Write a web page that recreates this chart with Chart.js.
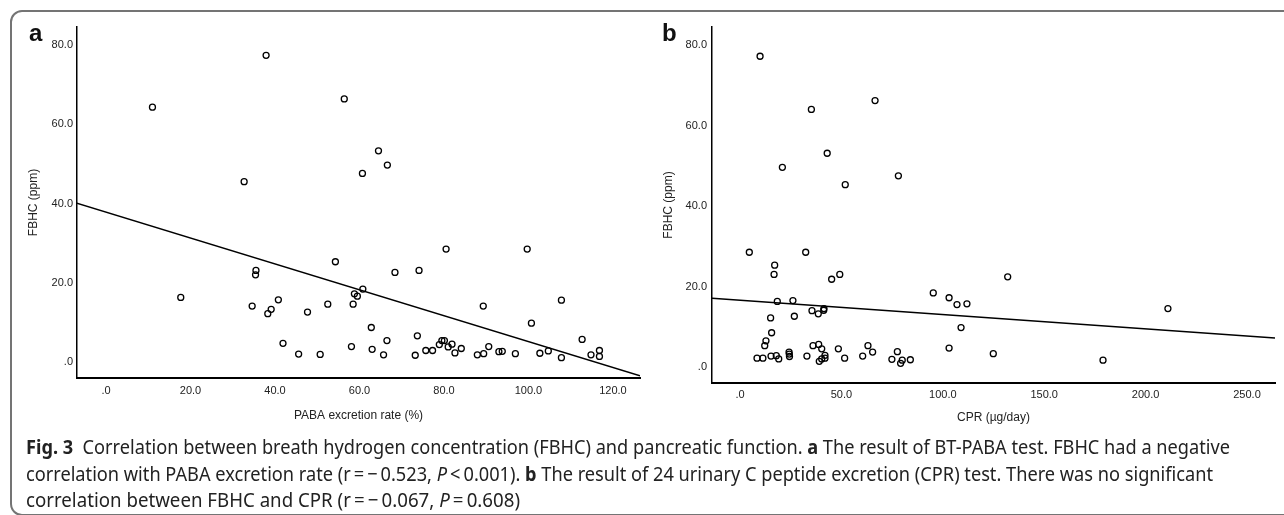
<!DOCTYPE html>
<html>
<head>
<meta charset="utf-8">
<script src="https://cdn.jsdelivr.net/npm/chart.js@4.4.1/dist/chart.umd.min.js"></script>
<style>
    body { margin: 0; width: 1284px; height: 515px; overflow: hidden; background: #fff; position: relative; font-family: 'Liberation Sans', Arial, sans-serif; }
    #frame { position: absolute; left: 10px; top: 10px; width: 1300px; height: 506px; border: 2px solid #747474; border-radius: 12px; box-sizing: border-box; }
    .panel { position: absolute; top: 15px; }
    #panelA { left: 15px; }
    #panelB { left: 650px; }
    .letter { position: absolute; font-weight: bold; font-size: 24px; line-height: 24px; color: #111; }
    .caption { position: absolute; left: 26px; font-family: 'Noto Sans', sans-serif; font-size: 20px; line-height: 26px; color: #222; white-space: nowrap; transform-origin: left top; }
</style>
</head>
<body>
<div id="frame"></div>
<canvas id="panelA" class="panel" width="640" height="420"></canvas>
<canvas id="panelB" class="panel" width="634" height="420"></canvas>
<div class="letter" style="left:29px; top:21px;">a</div>
<div class="letter" style="left:662px; top:21px;">b</div>
<div class="caption" style="top:434px;"><b>Fig. 3</b>&nbsp; Correlation between breath hydrogen concentration (FBHC) and pancreatic function. <b>a</b> The result of BT-PABA test. FBHC had a negative</div>
<div class="caption" style="top:461px;">correlation with PABA excretion rate (r&thinsp;=&thinsp;&minus;&thinsp;0.523, <i>P</i>&thinsp;&lt;&thinsp;0.001). <b>b</b> The result of 24 urinary C peptide excretion (CPR) test. There was no significant</div>
<div class="caption" style="top:487px;">correlation between FBHC and CPR (r&thinsp;=&thinsp;&minus;&thinsp;0.067, <i>P</i>&thinsp;=&thinsp;0.608)</div>

<script>
'use strict';

// panel a : PABA excretion rate (%) vs FBHC (ppm)
let pabaX = [
    11.0, 37.9, 32.7, 56.4, 64.5, 66.6, 60.7, 17.7, 35.5, 35.4,
    34.6, 39.1, 38.3, 40.8, 47.7, 41.9, 45.6, 50.7, 52.5, 54.3,
    58.5, 58.8, 59.5, 60.8, 58.1, 62.8, 63.0, 65.7, 66.5, 68.4,
    74.1, 80.5, 73.7, 73.2, 75.7, 77.3, 78.9, 79.5, 80.1, 81.0,
    81.9, 82.6, 84.1, 87.9, 89.4, 90.6, 89.3, 93.0, 93.8, 96.9,
    99.7, 100.7, 102.7, 104.7, 107.8, 107.8, 112.7, 114.8, 116.8, 116.8
];
let pabaY = [
    64.3, 77.4, 45.5, 66.4, 53.3, 49.7, 47.6, 16.3, 23.1, 22.0,
    14.1, 13.3, 12.2, 15.7, 12.6, 4.7, 2.0, 1.9, 14.6, 25.3,
    14.6, 17.2, 16.6, 18.4, 3.9, 8.7, 3.2, 1.8, 5.4, 22.6,
    23.1, 28.5, 6.6, 1.7, 2.9, 2.9, 4.4, 5.4, 5.4, 3.8,
    4.5, 2.3, 3.4, 1.8, 2.1, 3.9, 14.1, 2.6, 2.7, 2.1,
    28.5, 9.8, 2.2, 2.8, 15.6, 1.1, 5.7, 1.8, 2.9, 1.4
];
// fitted line, read at both ends of the axis
let pabaFitX = [-6.9, 126.4];
let pabaFitY = [40.1, -3.5];

// panel b : CPR (µg/day) vs FBHC (ppm)
let cprX = [
    9.9, 35.2, 66.6, 43.0, 20.9, 51.9, 78.1, 4.6, 32.4, 17.1,
    16.8, 45.2, 49.2, 18.4, 26.1, 15.1, 26.8, 35.5, 38.6, 41.3,
    41.4, 15.6, 12.8, 12.2, 8.4, 11.3, 15.3, 17.9, 19.1, 24.2,
    24.4, 24.3, 33.0, 36.0, 38.8, 40.3, 39.1, 40.3, 41.9, 41.9,
    48.5, 51.6, 60.5, 63.1, 65.4, 74.9, 77.6, 79.2, 80.0, 84.0,
    95.3, 103.1, 107.0, 111.9, 109.0, 103.1, 132.0, 124.9, 179.0, 211.0
];
let cprY = [
    77.2, 64.0, 66.2, 53.1, 49.6, 45.3, 47.5, 28.5, 28.5, 25.3,
    23.0, 21.8, 23.0, 16.3, 16.5, 12.2, 12.6, 14.0, 13.2, 14.1,
    14.5, 8.5, 6.5, 5.3, 2.2, 2.2, 2.7, 2.8, 2.0, 3.7,
    2.6, 3.2, 2.7, 5.3, 5.6, 4.5, 1.4, 2.0, 2.2, 2.9,
    4.5, 2.2, 2.7, 5.3, 3.7, 1.9, 3.8, 0.9, 1.7, 1.8,
    18.4, 17.2, 15.5, 15.7, 9.8, 4.7, 22.4, 3.3, 1.7, 14.5
];
let cprFitX = [-13.8, 263.8];
let cprFitY = [17.1, 7.2];

let fbhcTicks = [0, 20, 40, 60, 80];
let pabaTicks = [0, 20, 40, 60, 80, 100, 120];
let cprTicks = [0, 50, 100, 150, 200, 250];


function toPoints(xs, ys) {
    let pts = [];
    for (let i = 0; i < xs.length; i++) {
        pts.push({ x: xs[i], y: ys[i] });
    }
    return pts;
}

// SPSS style labels: .0, 20.0, 40.0 ...
function spssLabel(v) {
    return v === 0 ? '.0' : v.toFixed(1);
}

function drawPanel(id, xs, ys, fitX, fitY, s) {
    let ctx = document.getElementById(id).getContext('2d');
    let tickFont = { family: 'Liberation Sans', size: 11 };
    let titleFont = { family: 'Liberation Sans', size: 12 };

    new Chart(ctx, {
        type: 'scatter',
        data: {
            datasets: [{
                data: toPoints(xs, ys),
                pointRadius: 3,
                pointBorderWidth: 1.3,
                pointBorderColor: '#000',
                pointBackgroundColor: 'rgba(0,0,0,0)'
            }, {
                data: toPoints(fitX, fitY),
                showLine: true,
                pointRadius: 0,
                borderColor: '#000',
                borderWidth: 1.5
            }]
        },
        options: {
            responsive: false,
            animation: false,
            devicePixelRatio: 1,
            layout: { padding: { top: 12, right: s.padRight, left: 0, bottom: 0 } },
            plugins: { legend: { display: false }, tooltip: { enabled: false } },
            scales: {
                x: {
                    type: 'linear',
                    min: s.xMin,
                    max: s.xMax,
                    grid: { display: false, drawTicks: false },
                    border: { display: true, color: '#000', width: 2 },
                    afterBuildTicks: (scale) => { scale.ticks = s.xTicks.map(v => ({ value: v })); },
                    afterFit: (scale) => { scale.height = s.xHeight; },
                    ticks: { padding: s.xTickPad, color: '#222', font: tickFont, callback: spssLabel, maxRotation: 0 },
                    title: { display: true, text: s.xTitle, color: '#222', font: titleFont, padding: { top: 0, bottom: s.xTitlePad } }
                },
                y: {
                    type: 'linear',
                    min: s.yMin,
                    max: s.yMax,
                    grid: { display: false, drawTicks: false },
                    border: { display: true, color: '#000', width: 1.5 },
                    afterBuildTicks: (scale) => { scale.ticks = fbhcTicks.map(v => ({ value: v })); },
                    afterFit: (scale) => { scale.width = 62; },
                    ticks: { padding: s.yTickPad, color: '#222', font: tickFont, callback: spssLabel },
                    title: { display: true, text: 'FBHC (ppm)', color: '#222', font: titleFont, padding: { top: 11, bottom: 0 } }
                }
            }
        }
    });
}

drawPanel('panelA', pabaX, pabaY, pabaFitX, pabaFitY, {
    xMin: -6.86, xMax: 126.4, xTicks: pabaTicks, xTitle: 'PABA excretion rate (%)',
    yMin: -4.04, yMax: 84.54, padRight: 15, xHeight: 57, xTickPad: 6, xTitlePad: 12, yTickPad: 4
});

drawPanel('panelB', cprX, cprY, cprFitX, cprFitY, {
    xMin: -13.8, xMax: 263.8, xTicks: cprTicks, xTitle: 'CPR (\u00b5g/day)',
    yMin: -3.98, yMax: 84.47, padRight: 9, xHeight: 52, xTickPad: 5, xTitlePad: 10, yTickPad: 5
});

// squeeze caption lines to the widths seen in the figure
let capEnds = [1230, 1213, 520];
document.fonts.ready.then(() => {
    let lines = document.querySelectorAll('.caption');
    for (let i = 0; i < lines.length; i++) {
        let w = lines[i].getBoundingClientRect().width;
        lines[i].style.transform = 'scaleX(' + ((capEnds[i] - 26) / w) + ')';
    }
});
</script>
</body>
</html>
